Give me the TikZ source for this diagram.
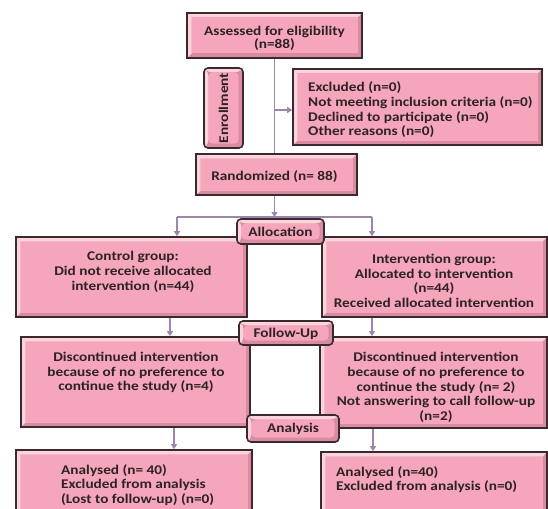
\documentclass[tikz,border=0pt]{standalone}
\usepackage{fontspec}
\setmainfont{Carlito}[FakeStretch=1.15]
\usetikzlibrary{arrows.meta,backgrounds,calc}
\definecolor{bdark}{HTML}{3A2A2E}
\definecolor{pface}{HTML}{F5A6BB}
\definecolor{plight}{HTML}{FAD3DD}
\definecolor{pshade}{HTML}{D98CA1}
\definecolor{lnk}{HTML}{9C86AE}
\definecolor{txt}{HTML}{2E2226}
\tikzset{
  bev/.style={rectangle, draw=bdark, line width=1.6pt, fill=pshade, inner sep=0pt,
    path picture={
      \path (path picture bounding box.north west) coordinate (pNW)
            (path picture bounding box.north east) coordinate (pNE)
            (path picture bounding box.south west) coordinate (pSW)
            (path picture bounding box.south east) coordinate (pSE);
      \fill[plight] (pNW) -- (pNE) -- ($(pNE)+(-4.5,-4.5)$) -- ($(pNW)+(4.5,-4.5)$) -- cycle;
      \fill[plight] (pNW) -- (pSW) -- ($(pSW)+(4.5,4.5)$) -- ($(pNW)+(4.5,-4.5)$) -- cycle;
      \fill[pface] ($(pNW)+(4.5,-4.5)$) rectangle ($(pSE)+(-4.5,4.5)$);
    }},
  bevr/.style={bev, rounded corners=4pt},
  tx/.style={inner sep=0pt, font=\bfseries\fontsize{13.3}{14.7}\selectfont, text=txt},
  conn/.style={draw=lnk, line width=1.2pt},
  arr/.style={conn, -{Triangle[length=5pt,width=6pt]}},
}
\begin{document}
\begin{tikzpicture}[x=1pt,y=1pt]
\useasboundingbox (0,0) rectangle (548,-508);
\clip (0,0) rectangle (548,-508);
% boxes
\node[bev, minimum width=175, minimum height=45] (assess) at (274.5,-35.5) {};
\node[tx, align=center, font=\bfseries\fontsize{13.3}{12.5}\selectfont] (assessT) at (274.5,-38.5) {Assessed for eligibility\\(n=88)};
\node[bevr, minimum width=39, minimum height=80] (enroll) at (223.5,-108) {};
\node[tx, rotate=90] (enrollT) at (223.5,-108) {Enrollment};
\node[bev, minimum width=249, minimum height=76] (excl) at (417.5,-107) {};
\node[tx, align=left, anchor=west] (exclT) at (308,-110) {Excluded (n=0)\\Not meeting inclusion criteria (n=0)\\Declined to participate (n=0)\\Other reasons (n=0)};
\node[bev, minimum width=161, minimum height=41] (rand) at (276.5,-174.5) {};
\node[tx] (randT) at (274.5,-177) {Randomized (n= 88)};
\node[bev, minimum width=231, minimum height=80] (control) at (131.5,-277) {};
\node[tx, align=center] (controlT) at (133,-272) {Control group:\\Did not receive allocated\\intervention (n=44)};
\node[bev, minimum width=225, minimum height=80] (interv) at (434.5,-277) {};
\node[tx, align=center] (intervT) at (434,-281) {Intervention group:\\Allocated to intervention\\(n=44)\\Received allocated intervention};
\node[bevr, minimum width=87, minimum height=25] (alloc) at (280.5,-231.5) {};
\node[tx] (allocT) at (280.5,-232) {Allocation};
\node[bev, minimum width=229, minimum height=90] (discL) at (135.5,-382) {};
\node[tx, align=center] (discLT) at (136,-372.5) {Discontinued intervention\\because of no preference to\\continue the study (n=4)};
\node[bev, minimum width=227, minimum height=91] (discR) at (433.5,-382.5) {};
\node[tx, align=center] (discRT) at (436,-387.5) {Discontinued intervention\\because of no preference to\\continue the study (n= 2)\\Not answering to call follow-up\\(n=2)};
\node[bevr, minimum width=94, minimum height=24] (follow) at (286,-333) {};
\node[tx] (followT) at (286,-333.5) {Follow-Up};
\node[bev, minimum width=236, minimum height=90] (anaL) at (134,-495) {};
\node[tx, align=left, anchor=west] (anaLT) at (61,-485) {Analysed (n= 40)\\Excluded from analysis\\(Lost to follow-up) (n=0)};
\node[bev, minimum width=226, minimum height=88] (anaR) at (434,-496) {};
\node[tx, align=left, anchor=west] (anaRT) at (336,-479.5) {Analysed (n=40)\\Excluded from analysis (n=0)};
\node[bevr, minimum width=92, minimum height=27] (analysis) at (293,-428.5) {};
\node[tx] (analysisT) at (293,-429) {Analysis};
% connectors
\coordinate (jn) at (274.5,-110);
\coordinate (split) at (274.5,-217);
\coordinate (sL) at (177,-217);
\coordinate (sR) at (372,-217);
\coordinate (c1) at (170,0);
\coordinate (c2) at (372,0);
\coordinate (c3) at (174,0);
\coordinate (c4) at (373,0);
\begin{scope}[on background layer]
\draw[conn] (assess.south -| jn) -- (rand.north -| jn);
\draw[arr] (jn) -- (excl.west |- jn);
\draw[arr] (rand.south -| split) -- (split);
\draw[conn] (sL) -- (sR);
\draw[arr] (sL) -- (control.north -| sL);
\draw[arr] (sR) -- (interv.north -| sR);
\draw[arr] (control.south -| c1) -- (discL.north -| c1);
\draw[arr] (interv.south -| c2) -- (discR.north -| c2);
\draw[arr] (discL.south -| c3) -- (anaL.north -| c3);
\draw[arr] (discR.south -| c4) -- (anaR.north -| c4);
\end{scope}
\end{tikzpicture}
\end{document}
